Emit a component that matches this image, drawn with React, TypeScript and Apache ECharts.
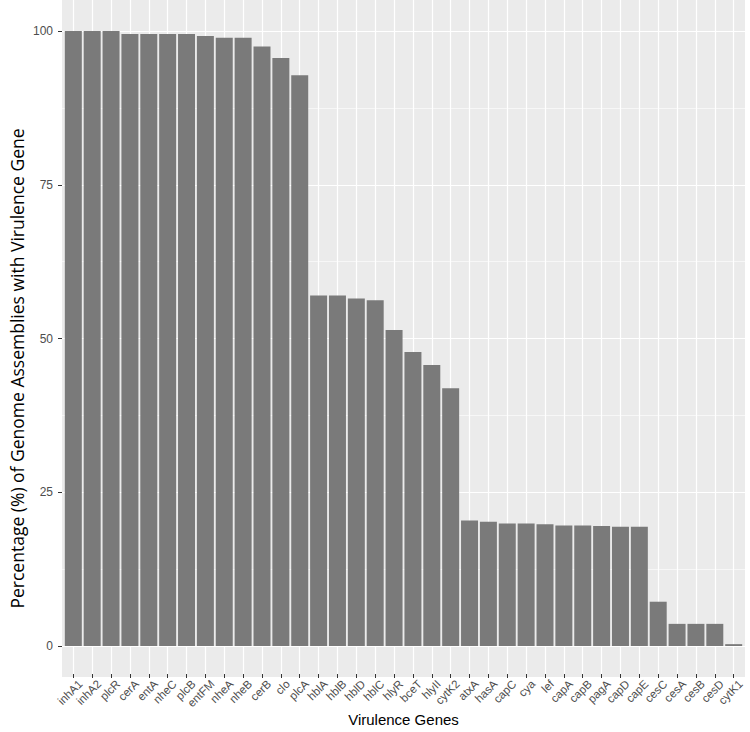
import React, { useEffect, useRef } from "react";
import * as echarts from "echarts";

const categories = [
  "inhA1", "inhA2", "plcR", "cerA", "entA", "nheC", "plcB", "entFM", "nheA", "nheB",
  "cerB", "clo", "plcA", "hblA", "hblB", "hblD", "hblC", "hlyR", "bceT", "hlyII",
  "cytK2", "atxA", "hasA", "capC", "cya", "lef", "capA", "capB", "pagA", "capD",
  "capE", "cesC", "cesA", "cesB", "cesD", "cytK1",
];
const percentages = [
  100, 100, 100, 99.5, 99.5, 99.5, 99.5, 99.2, 98.9, 98.9,
  97.5, 95.6, 92.8, 57.0, 57.0, 56.5, 56.2, 51.4, 47.8, 45.7,
  41.9, 20.4, 20.2, 19.9, 19.9, 19.8, 19.6, 19.6, 19.5, 19.4,
  19.4, 7.2, 3.6, 3.6, 3.6, 0.3,
];
const yTicks = [0, 25, 50, 75, 100];
const xTitle = "Virulence Genes";
const yTitle = "Percentage (%) of Genome Assemblies with Virulence Gene";

export default function App() {
  const ref = useRef<HTMLDivElement>(null);
  useEffect(() => {
    document.body.style.margin = "0";
    if (!ref.current) return;
    const chart = echarts.init(ref.current, null, { renderer: "svg" });
    const panelLeft = 62;
    const panelW = 683;
    const panelTop = 0;
    const panelH = 677;
    const n = categories.length;
    const u = panelW / (n - 1 + 1.2);
    const yTop = 31;
    const yH = 615;
    const tickFont = "Liberation Sans";
    chart.setOption({
      animation: false,
      backgroundColor: "#fff",
      grid: [
        { left: panelLeft, top: panelTop, width: panelW, height: panelH, show: true, backgroundColor: "#EBEBEB", borderWidth: 0 },
        { left: panelLeft + 0.6 * u, top: panelTop, width: (n - 1) * u, height: panelH },
        { left: panelLeft, top: yTop, width: panelW, height: yH },
        { left: panelLeft + 0.1 * u, top: yTop, width: n * u, height: yH },
        { left: panelLeft + 0.6 * u + 7, top: panelTop, width: (n - 1) * u, height: panelH },
        { left: panelLeft, top: 91, width: panelW, height: 555 },
      ],
      xAxis: [
        { gridIndex: 0, type: "value", show: false },
        {
          gridIndex: 1, type: "category", data: categories, boundaryGap: false,
          axisLine: { show: false },
          axisTick: { show: true, length: 4, interval: 0, lineStyle: { color: "#333", width: 1 } },
          axisLabel: { show: false },
          splitLine: { show: true, interval: 0, lineStyle: { color: "#FFFFFF", width: 1.2 } },
          name: xTitle, nameLocation: "middle", nameGap: 38,
          nameTextStyle: { fontFamily: tickFont, fontSize: 15, color: "#000" },
        },
        { gridIndex: 2, type: "value", show: false },
        { gridIndex: 3, type: "category", data: categories, show: false },
        {
          gridIndex: 4, type: "category", data: categories, boundaryGap: false,
          axisLine: { show: false }, axisTick: { show: false },
          splitLine: { show: false },
          axisLabel: { interval: 0, rotate: 45, margin: 5, fontFamily: tickFont, fontSize: 11.5, color: "#4D4D4D" },
        },
        { gridIndex: 5, type: "value", show: false },
      ],
      yAxis: [
        { gridIndex: 0, type: "value", show: false },
        { gridIndex: 1, type: "value", show: false },
        {
          gridIndex: 2, type: "value", min: yTicks[0], max: yTicks[yTicks.length - 1], interval: 25,
          axisLine: { show: false },
          axisTick: { show: true, length: 4, lineStyle: { color: "#333", width: 1 } },
          axisLabel: { margin: 9, fontFamily: tickFont, fontSize: 12, color: "#4D4D4D" },
          splitLine: { show: true, lineStyle: { color: "#FFFFFF", width: 1.2 } },
          minorTick: { show: false, splitNumber: 2 },
          minorSplitLine: { show: true, lineStyle: { color: "#FFFFFF", width: 0.6 } },
        },
        { gridIndex: 3, type: "value", min: 0, max: 100, show: false },
        { gridIndex: 4, type: "value", show: false },
        {
          gridIndex: 5, type: "value",
          axisLine: { show: false }, axisTick: { show: false }, axisLabel: { show: false },
          splitLine: { show: false },
          name: yTitle, nameLocation: "middle", nameGap: 41,
          nameTextStyle: { fontFamily: "Open Sans", fontSize: 17.5, color: "#000" },
        },
      ],
      series: [
        {
          type: "bar", xAxisIndex: 3, yAxisIndex: 3, data: percentages,
          barCategoryGap: "10%",
          itemStyle: { color: "#7A7A7A" },
        },
      ],
    });
    return () => chart.dispose();
  }, []);
  return <div ref={ref} style={{ width: 750, height: 732 }} />;
}
